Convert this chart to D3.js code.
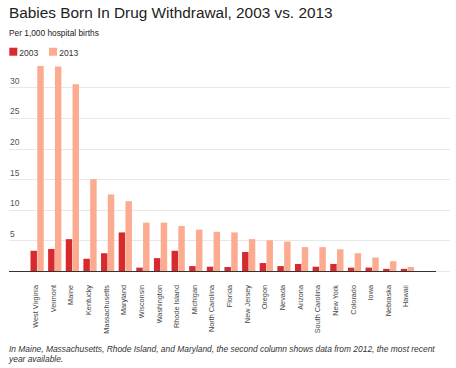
<!DOCTYPE html>
<html><head><meta charset="utf-8">
<script src="https://cdnjs.cloudflare.com/ajax/libs/d3/7.8.5/d3.min.js"></script>
<style>body{margin:0;background:#fff}svg{display:block;font-family:"Liberation Sans",Arial,sans-serif}</style>
</head><body><svg id="c" width="456" height="368"></svg>
<script>
const states = ["West Virginia","Vermont","Maine","Kentucky","Massachusetts","Maryland","Wisconsin","Washington","Rhode Island","Michigan","North Carolina","Florida","New Jersey","Oregon","Nevada","Arizona","South Carolina","New York","Colorado","Iowa","Nebraska","Hawaii"];
const values2003 = [3.3,3.6,5.2,2.0,2.9,6.3,0.55,2.1,3.3,0.8,0.7,0.65,3.1,1.3,0.8,1.15,0.7,1.15,0.55,0.55,0.35,0.35];
const values2013 = [33.5,33.4,30.5,15.0,12.5,11.4,7.9,7.9,7.35,6.75,6.4,6.3,5.2,5.0,4.8,3.9,3.9,3.55,2.9,2.2,1.6,0.65];
const seriesNames = ["2003","2013"];
const yTicks = [5,10,15,20,25,30];
const colors = ["#d62a2e","#fcaa90"];

const svg = d3.select("#c");
const x = d3.scaleBand().domain(states).range([30.5, 414]).paddingInner(0.25).paddingOuter(0);
const xs = d3.scaleBand().domain(seriesNames).range([0, x.bandwidth()]).paddingInner(0.05);
const y = d3.scaleLinear().domain([0,35]).range([271, 56.7]);

function fit(sel, w){ const n=sel.node(); const l=n.getComputedTextLength(); const fs=parseFloat(sel.attr("font-size")); sel.attr("font-size", fs*w/l); }

const title = svg.append("text").attr("x",9).attr("y",17.7).attr("font-size",16).attr("fill","#222").text("Babies Born In Drug Withdrawal, 2003 vs. 2013");
fit(title, 324);
const sub = svg.append("text").attr("x",9).attr("y",36).attr("font-size",9).attr("fill","#222").text("Per 1,000 hospital births");
fit(sub, 90);

const leg = svg.append("g");
[[9.3,19.3],[49,59.3]].forEach((p,i)=>{
  leg.append("rect").attr("x",p[0]).attr("y",47.7).attr("width",8).attr("height",8).attr("fill",colors[i]);
  leg.append("text").attr("x",p[1]).attr("y",55.5).attr("font-size",8.5).attr("fill","#333").text(seriesNames[i]);
});

// gridlines
const grid = svg.append("g");
grid.selectAll("line").data([0].concat(yTicks)).join("line")
  .attr("x1",9).attr("x2",450).attr("y1",d=>Math.round(y(d))+0.5).attr("y2",d=>Math.round(y(d))+0.5)
  .attr("stroke","#e8e8e8").attr("stroke-width",1.2);
grid.selectAll("text").data(yTicks).join("text")
  .attr("x",10).attr("y",d=>y(d)-3.5).attr("font-size",8.5).attr("fill","#555").text(d=>d);

// bars
const g = svg.append("g");
const groups = g.selectAll("g").data(states).join("g").attr("transform",d=>`translate(${x(d)},0)`);
groups.selectAll("rect").data((d,i)=>[values2003[i],values2013[i]].map((v,k)=>({k,v}))).join("rect")
  .attr("x",d=>xs(seriesNames[d.k])).attr("width",xs.bandwidth())
  .attr("y",d=>y(d.v)).attr("height",d=>y(0)-y(d.v))
  .attr("fill",d=>colors[d.k]);

// baseline
svg.append("line").attr("x1",9).attr("x2",436).attr("y1",271.5).attr("y2",271.5).attr("stroke","#333").attr("stroke-width",1);

// x labels
svg.append("g").selectAll("text").data(states).join("text")
  .attr("transform",d=>`translate(${x(d)+x.bandwidth()/2-1.5},285) rotate(-90)`)
  .attr("text-anchor","end").attr("dy","0.35em").attr("font-size",7.3).attr("fill","#444").text(d=>d);

// footnote
const n1 = svg.append("text").attr("x",9).attr("y",352.3).attr("font-size",9).attr("font-style","italic").attr("fill","#333")
  .text("In Maine, Massachusetts, Rhode Island, and Maryland, the second column shows data from 2012, the most recent");
fit(n1, 426);
svg.append("text").attr("x",9).attr("y",362).attr("font-size",n1.attr("font-size")).attr("font-style","italic").attr("fill","#333").text("year available.");
</script></body></html>
